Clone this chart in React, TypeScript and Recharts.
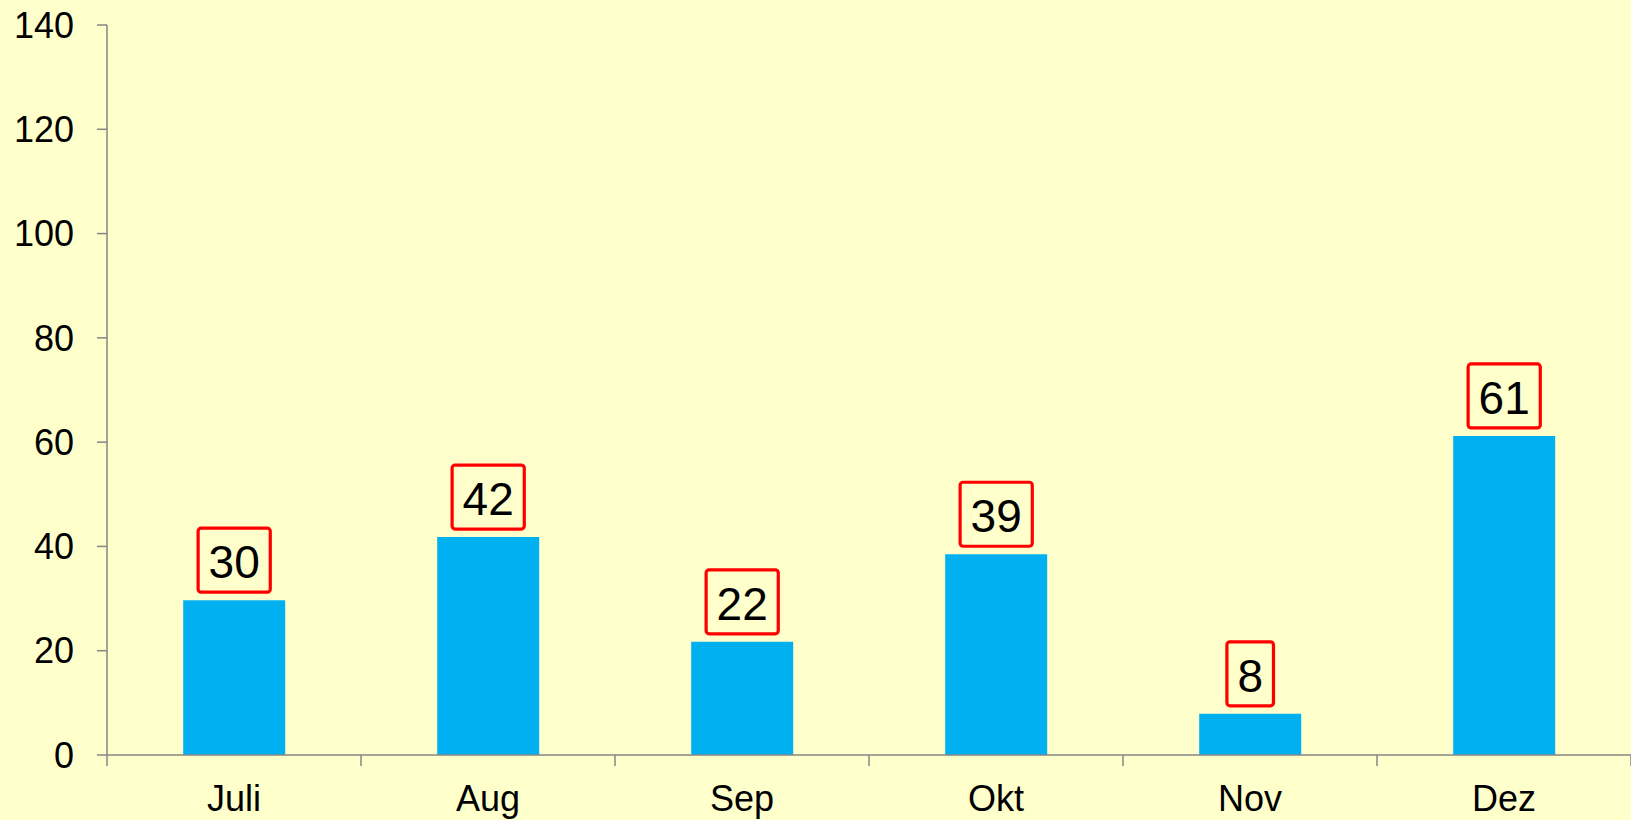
import React from 'react'
import { BarChart, Bar, XAxis, YAxis, LabelList } from 'recharts';

const months = ['Juli', 'Aug', 'Sep', 'Okt', 'Nov', 'Dez'];
const values = [29.7, 41.8, 21.7, 38.5, 7.9, 61.2];
const yTicks = [0, 20, 40, 60, 80, 100, 120, 140];

const data = months.map((month, i) => ({ month, value: values[i] }));

const font = '"Liberation Sans", Arial, sans-serif';
const axisColor = '#868686';

const BoxLabel = (props: any) => {
    const { x, y, width, value } = props;
    const text = String(Math.round(value));
    const fontSize = 46;
    const boxW = text.length * fontSize * 0.556 + 21;
    const boxH = 64;
    const cx = x + width / 2;
    const bottom = y - 8;

    return (
        <g>
            <rect x={cx - boxW / 2} y={bottom - boxH} width={boxW} height={boxH} rx={3}
                fill="none" stroke="#FF0000" strokeWidth={3.2} />
            <text x={cx} y={bottom - 14} textAnchor="middle" fontSize={fontSize}
                fontFamily={font} fill="#000">
                {text}
            </text>
        </g>
    )
}

// month label in the middle, tick marks on the category borders
const MonthTick = (props: any) => {
    const { x, y, payload, index, visibleTicksCount, width } = props;
    const count = visibleTicksCount || months.length;
    const band = width / count;
    const left = x - band / 2;
    const right = x + band / 2;

    return (
        <g>
            <line x1={left} y1={y} x2={left} y2={y + 11} stroke={axisColor} strokeWidth={1.5} />
            {index === count - 1 &&
                <line x1={right} y1={y} x2={right} y2={y + 11} stroke={axisColor} strokeWidth={1.5} />}
            <text x={x} y={y + 56} textAnchor="middle" fontSize={36} fontFamily={font} fill="#000">
                {payload.value}
            </text>
        </g>
    )
}

const App: React.FC = () => {
    return (
        <div style={{ position: 'absolute', top: 0, left: 0, width: 1631, height: 820, background: '#FFFFCC' }}>
            <BarChart width={1631} height={820} data={data}
                margin={{ top: 25, right: 0, left: 0, bottom: 0 }}
                barCategoryGap="30%"
            >
                <XAxis dataKey="month" height={65} tickSize={0} tickMargin={0} interval={0}
                    tickLine={false}
                    axisLine={{ stroke: axisColor, strokeWidth: 1.5 }}
                    tick={<MonthTick />} />
                <YAxis domain={[0, 140]} ticks={yTicks} width={107} tickSize={10} tickMargin={23}
                    interval={0}
                    axisLine={{ stroke: axisColor, strokeWidth: 1.5 }}
                    tickLine={{ stroke: axisColor, strokeWidth: 1.5 }}
                    tick={{ fill: '#000', fontSize: 36, fontFamily: font }} />
                <Bar dataKey="value" fill="#00B0F0" isAnimationActive={false}>
                    <LabelList dataKey="value" content={<BoxLabel />} />
                </Bar>
            </BarChart>
        </div>
    )
}

export default App
